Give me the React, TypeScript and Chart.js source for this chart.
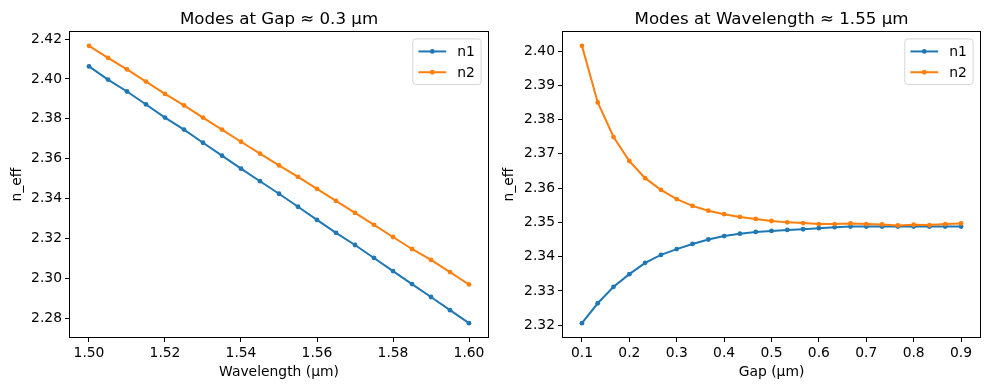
import React, { useEffect, useRef } from "react";
import { Chart, registerables } from "chart.js";

Chart.register(...registerables);

const BLUE = "#1f77b4";
const ORANGE = "#ff7f0e";
const FONT = '"DejaVu Sans", Verdana, sans-serif';

// Left panel: modes vs wavelength at gap ≈ 0.3 µm
const wavelength = [
  1.5, 1.505, 1.51, 1.515, 1.52, 1.525, 1.53, 1.535, 1.54, 1.545, 1.55,
  1.555, 1.56, 1.565, 1.57, 1.575, 1.58, 1.585, 1.59, 1.595, 1.6,
];
const n1Wavelength = [
  2.4063, 2.3997, 2.3937, 2.3872, 2.3806, 2.3746, 2.368, 2.3615, 2.355, 2.3487,
  2.3424, 2.3359, 2.3293, 2.3228, 2.3167, 2.3102, 2.3036, 2.2971, 2.2906, 2.284,
  2.2775,
];
const n2Wavelength = [
  2.4166, 2.4106, 2.4048, 2.3987, 2.3925, 2.3867, 2.3806, 2.3746, 2.3685, 2.3625,
  2.3566, 2.3509, 2.3449, 2.3388, 2.3328, 2.3268, 2.3207, 2.3147, 2.3092, 2.3031,
  2.2969,
];
const wavelengthTicks = [1.5, 1.52, 1.54, 1.56, 1.58, 1.6];
const wavelengthYTicks = [2.28, 2.3, 2.32, 2.34, 2.36, 2.38, 2.4, 2.42];

// Right panel: modes vs gap at wavelength ≈ 1.55 µm
const gap = [
  0.1, 0.1333, 0.1667, 0.2, 0.2333, 0.2667, 0.3, 0.3333, 0.3667, 0.4, 0.4333,
  0.4667, 0.5, 0.5333, 0.5667, 0.6, 0.6333, 0.6667, 0.7, 0.7333, 0.7667, 0.8,
  0.8333, 0.8667, 0.9,
];
const n1Gap = [
  2.3206, 2.3264, 2.3312, 2.3349, 2.3382, 2.3405, 2.3422, 2.3437, 2.345, 2.346,
  2.3467, 2.3472, 2.3475, 2.3478, 2.348, 2.3483, 2.3486, 2.3488, 2.3488, 2.3488,
  2.3488, 2.3488, 2.3488, 2.3488, 2.3488,
];
const n2Gap = [
  2.4015, 2.385, 2.3749, 2.3679, 2.3629, 2.3595, 2.3568, 2.3548, 2.3534, 2.3524,
  2.3516, 2.351, 2.3504, 2.35, 2.3498, 2.3495, 2.3495, 2.3497, 2.3495, 2.3494,
  2.3491, 2.3493, 2.3492, 2.3495, 2.3497,
];
const gapTicks = [0.1, 0.2, 0.3, 0.4, 0.5, 0.6, 0.7, 0.8, 0.9];
const gapYTicks = [2.32, 2.33, 2.34, 2.35, 2.36, 2.37, 2.38, 2.39, 2.4];

const seriesLabels = ["n1", "n2"];

type PanelSpec = {
  title: string;
  xLabel: string;
  x: number[];
  n1: number[];
  n2: number[];
  xTicks: number[];
  yTicks: number[];
  xDec: number;
  yDec: number;
  yAxisWidth: number;
  padRight: number;
  yTitlePad: number;
};

function margin(vals: number[]) {
  const mn = Math.min(...vals);
  const mx = Math.max(...vals);
  const m = (mx - mn) * 0.05;
  return [mn - m, mx + m];
}

const mplPlugin = {
  id: "mplDecor",
  afterDraw(chart: any, _args: any, opts: any) {
    const ctx = chart.ctx as CanvasRenderingContext2D;
    const a = chart.chartArea;
    ctx.save();
    // frame
    ctx.strokeStyle = "#000";
    ctx.lineWidth = 1;
    const l = Math.round(a.left) - 0.5;
    const t = Math.round(a.top) - 0.5;
    const r = Math.round(a.right) + 0.5;
    const b = Math.round(a.bottom) + 0.5;
    ctx.strokeRect(l, t, r - l, b - t);
    // title
    ctx.fillStyle = "#000";
    ctx.font = `16.67px ${FONT}`;
    ctx.textAlign = "center";
    ctx.textBaseline = "alphabetic";
    ctx.fillText(opts.title, (a.left + a.right) / 2, 24);
    // legend
    const fs = 13.89;
    const bw = 68.3;
    const bh = 45.6;
    const bx = a.right - 6.9 - bw;
    const by = a.top + 6.9;
    ctx.beginPath();
    const rad = 3;
    ctx.moveTo(bx + rad, by);
    ctx.arcTo(bx + bw, by, bx + bw, by + bh, rad);
    ctx.arcTo(bx + bw, by + bh, bx, by + bh, rad);
    ctx.arcTo(bx, by + bh, bx, by, rad);
    ctx.arcTo(bx, by, bx + bw, by, rad);
    ctx.closePath();
    ctx.fillStyle = "rgba(255,255,255,0.8)";
    ctx.fill();
    ctx.strokeStyle = "#d6d6d6";
    ctx.lineWidth = 1;
    ctx.stroke();
    chart.data.datasets.forEach((ds: any, i: number) => {
      const cy = by + 5.6 + fs / 2 + i * (fs + 6.9);
      const x0 = bx + 5.6;
      const x1 = x0 + 27.8;
      ctx.strokeStyle = ds.borderColor;
      ctx.lineWidth = 2;
      ctx.beginPath();
      ctx.moveTo(x0, cy);
      ctx.lineTo(x1, cy);
      ctx.stroke();
      ctx.fillStyle = ds.borderColor;
      ctx.beginPath();
      ctx.arc((x0 + x1) / 2, cy, 2.4, 0, Math.PI * 2);
      ctx.fill();
      ctx.fillStyle = "#000";
      ctx.font = `${fs}px ${FONT}`;
      ctx.textAlign = "left";
      ctx.textBaseline = "alphabetic";
      ctx.fillText(ds.label, x1 + 11.1, cy + 5);
    });
    ctx.restore();
  },
};

function makeConfig(p: PanelSpec): any {
  const [xmin, xmax] = margin(p.x);
  const [ymin, ymax] = margin([...p.n1, ...p.n2]);
  const tickFont = { family: FONT, size: 13.89 };
  const mk = (label: string, ys: number[], color: string, order: number) => ({
    label,
    data: p.x.map((x, i) => ({ x, y: ys[i] })),
    borderColor: color,
    backgroundColor: color,
    pointBackgroundColor: color,
    pointBorderColor: color,
    borderWidth: 2,
    pointRadius: 2.4,
    pointBorderWidth: 0,
    tension: 0,
    order,
  });
  return {
    type: "line",
    data: {
      datasets: [
        mk(seriesLabels[0], p.n1, BLUE, 1),
        mk(seriesLabels[1], p.n2, ORANGE, 0),
      ],
    },
    options: {
      responsive: false,
      animation: false,
      layout: { padding: { left: 0, right: p.padRight, top: 32, bottom: 0 } },
      plugins: {
        legend: { display: false },
        title: { display: false },
        tooltip: { enabled: false },
        mplDecor: { title: p.title },
      },
      scales: {
        x: {
          type: "linear",
          min: xmin,
          max: xmax,
          afterBuildTicks: (s: any) => {
            s.ticks = p.xTicks.map((v) => ({ value: v }));
          },
          afterFit: (s: any) => {
            s.height = 53;
          },
          ticks: {
            autoSkip: false,
            maxRotation: 0,
            color: "#000",
            font: tickFont,
            padding: 3,
            callback: (v: number) => Number(v).toFixed(p.xDec),
          },
          grid: {
            drawOnChartArea: false,
            drawTicks: true,
            tickLength: 5,
            color: "#000",
            lineWidth: 1,
          },
          border: { display: false },
          title: {
            display: true,
            text: p.xLabel,
            color: "#000",
            font: tickFont,
            padding: { top: 0, bottom: 9 },
          },
        },
        y: {
          type: "linear",
          min: ymin,
          max: ymax,
          afterBuildTicks: (s: any) => {
            s.ticks = p.yTicks.map((v) => ({ value: v }));
          },
          afterFit: (s: any) => {
            s.width = p.yAxisWidth;
          },
          ticks: {
            autoSkip: false,
            color: "#000",
            font: tickFont,
            padding: 3,
            callback: (v: number) => Number(v).toFixed(p.yDec),
          },
          grid: {
            drawOnChartArea: false,
            drawTicks: true,
            tickLength: 5,
            color: "#000",
            lineWidth: 1,
          },
          border: { display: false },
          title: {
            display: true,
            text: "n_eff",
            color: "#000",
            font: tickFont,
            padding: { top: p.yTitlePad, bottom: 0 },
          },
        },
      },
    },
    plugins: [mplPlugin],
  };
}

function Panel({ spec, left, width }: { spec: PanelSpec; left: number; width: number }) {
  const ref = useRef<HTMLCanvasElement>(null);
  useEffect(() => {
    const chart = new Chart(ref.current as HTMLCanvasElement, makeConfig(spec));
    return () => chart.destroy();
  }, []);
  return (
    <div style={{ position: "absolute", left, top: 0, width, height: 390 }}>
      <canvas ref={ref} width={width} height={390} style={{ width, height: 390, display: "block" }} />
    </div>
  );
}

const leftSpec: PanelSpec = {
  title: "Modes at Gap ≈ 0.3 μm",
  xLabel: "Wavelength (μm)",
  x: wavelength,
  n1: n1Wavelength,
  n2: n2Wavelength,
  xTicks: wavelengthTicks,
  yTicks: wavelengthYTicks,
  xDec: 2,
  yDec: 2,
  yAxisWidth: 70,
  padRight: 6,
  yTitlePad: 9,
};

const rightSpec: PanelSpec = {
  title: "Modes at Wavelength ≈ 1.55 μm",
  xLabel: "Gap (μm)",
  x: gap,
  n1: n1Gap,
  n2: n2Gap,
  xTicks: gapTicks,
  yTicks: gapYTicks,
  xDec: 1,
  yDec: 2,
  yAxisWidth: 69,
  padRight: 9,
  yTitlePad: 7.5,
};

export default function App() {
  return (
    <div style={{ position: "absolute", left: 0, top: 0, width: 989, height: 390, background: "#fff" }}>
      <Panel spec={leftSpec} left={0} width={494} />
      <Panel spec={rightSpec} left={494} width={495} />
    </div>
  );
}
